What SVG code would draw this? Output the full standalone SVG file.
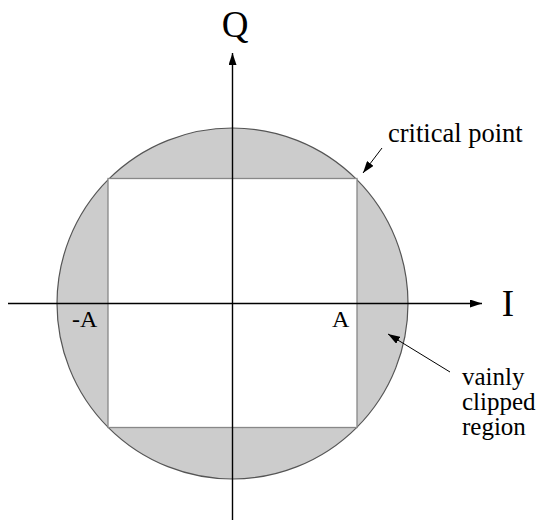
<svg xmlns="http://www.w3.org/2000/svg" width="540" height="521" viewBox="0 0 540 521">
<style>
.t{font-family:"Liberation Serif","Times New Roman",serif;fill:#000}
.ax{stroke:#000;stroke-width:1.4;fill:none}
.ld{stroke:#000;stroke-width:1;fill:none}
</style>
<defs>
<marker id="ah" viewBox="0 0 12 8" refX="12" refY="4" markerWidth="12" markerHeight="8" markerUnits="userSpaceOnUse" orient="auto">
<path d="M0,0 L12,4 L0,8 Z" fill="#000"/>
</marker>
<marker id="ahs" viewBox="0 0 12 8" refX="12" refY="4" markerWidth="12" markerHeight="8" markerUnits="userSpaceOnUse" orient="auto">
<path d="M0,0 L12,4 L0,8 Z" fill="#000"/>
</marker>
</defs>
<g id="circle">
<circle cx="232.5" cy="303.5" r="175.5" fill="#cccccc" stroke="#555" stroke-width="1.2"/>
</g>
<g id="square">
<rect x="108" y="178.5" width="249" height="249" fill="#fff" stroke="#888" stroke-width="1.3"/>
</g>
<g id="connectors">
<line class="ax" x1="232.5" y1="520" x2="232.5" y2="53" marker-end="url(#ah)"/>
<line class="ax" x1="8" y1="303.5" x2="482" y2="303.5" marker-end="url(#ah)"/>
<line class="ld" x1="382" y1="148" x2="363" y2="173" marker-end="url(#ahs)"/>
<line class="ld" x1="450" y1="372" x2="388" y2="334" marker-end="url(#ahs)"/>
</g>
<g id="labels">
<text class="t" x="235" y="37" font-size="37" text-anchor="middle">Q</text>
<text class="t" x="508" y="316" font-size="37" text-anchor="middle">I</text>
<text class="t" x="72" y="327" font-size="24">-A</text>
<text class="t" x="332" y="327" font-size="24">A</text>
<text class="t" x="388" y="142" font-size="26.5">critical point</text>
<text class="t" x="462" y="385" font-size="25">vainly</text>
<text class="t" x="462" y="410" font-size="25">clipped</text>
<text class="t" x="462" y="435" font-size="25">region</text>
</g>
</svg>
